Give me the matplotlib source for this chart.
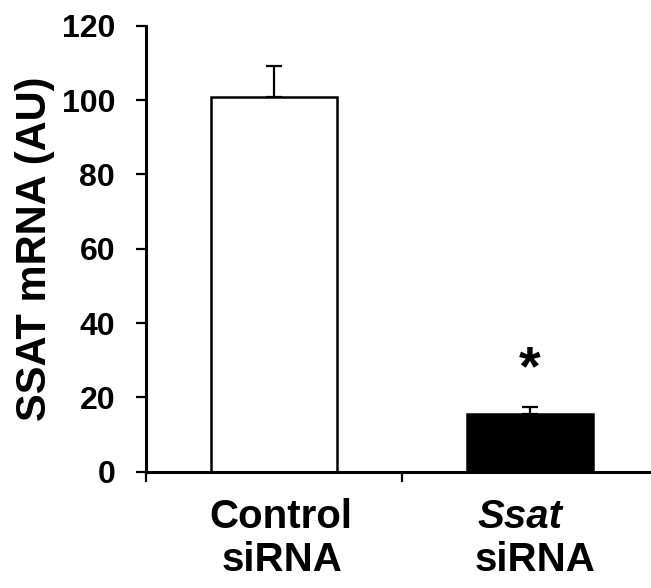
import matplotlib
matplotlib.use("Agg")
import matplotlib.pyplot as plt
from matplotlib.transforms import blended_transform_factory

plt.rcParams['font.family'] = ['Liberation Sans', 'DejaVu Sans']

categories = ["Control", "Ssat"]
values = [100.9, 15.4]
errors = [8.3, 2.0]
colors = ["white", "black"]
yticks = [0, 20, 40, 60, 80, 100, 120]

fig = plt.figure(figsize=(6.51, 5.88), dpi=100)
ax = fig.add_axes([146/651, 1 - 471.7/588, 512/651, 446/588])

x = list(range(len(categories)))
ax.bar(x, values, width=0.49, color=colors, edgecolor="black", linewidth=1.8, zorder=2)
ax.errorbar(x, values, yerr=[[0, 0], errors], fmt="none", ecolor="black",
            elinewidth=1.6, capsize=5.5, capthick=1.6, zorder=1)

ax.set_xlim(-0.5, 1.5)
ax.set_ylim(0, 120)
ax.set_yticks(yticks)
ax.set_yticklabels([str(t) for t in yticks], fontsize=23, fontweight="bold")
ax.tick_params(axis="y", direction="out", length=7.2, width=1.6, pad=15)

ax.set_xticks(x)
ax.set_xticklabels([])
ax.tick_params(axis="x", which="major", length=0)
ax.set_xticks([-0.5, 0.5, 1.5], minor=True)
ax.tick_params(axis="x", which="minor", direction="out", length=7.5, width=1.6)

for s in ["top", "right"]:
    ax.spines[s].set_visible(False)
for s in ["left", "bottom"]:
    ax.spines[s].set_linewidth(2.2)

ax.set_ylabel("SSAT mRNA (AU)", fontsize=30, fontweight="bold", labelpad=5)

tr = blended_transform_factory(ax.transData, ax.transAxes)
fs = 29
ax.text(0.025, -0.060, "Control", transform=tr, ha="center", va="top",
        fontsize=fs, fontweight="bold")
ax.text(0.03, -0.155, "siRNA", transform=tr, ha="center", va="top",
        fontsize=fs, fontweight="bold")
ax.text(0.96, -0.060, "Ssat", transform=tr, ha="center", va="top",
        fontsize=fs, fontweight="bold", style="italic")
ax.text(1.02, -0.155, "siRNA", transform=tr, ha="center", va="top",
        fontsize=fs, fontweight="bold")

ax.text(1, values[1] + errors[1] + 3.0, "*", ha="center", va="bottom",
        fontsize=40, fontweight="bold")

fig.savefig("out.png", dpi=100)
